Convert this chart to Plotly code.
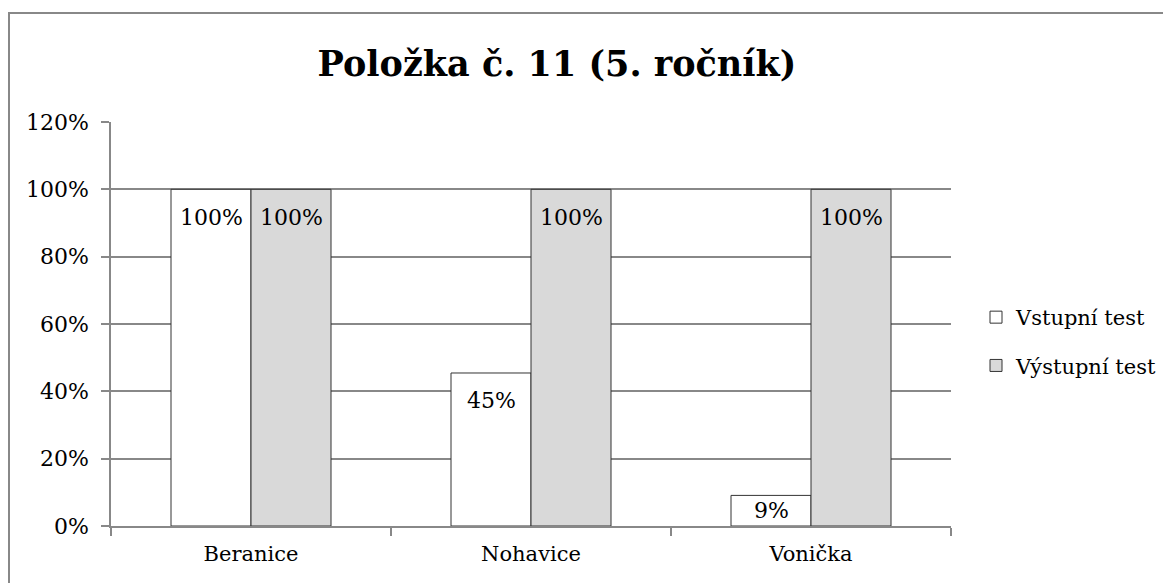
import plotly.graph_objects as go

categories = ["Beranice", "Nohavice", "Vonička"]
vstupni = [100, 45.45, 9.09]
vystupni = [100, 100, 100]
series_names = ["Vstupní test", "Výstupní test"]
y_ticks = [0, 20, 40, 60, 80, 100, 120]
title_text = "Položka č. 11 (5. ročník)"

W, H = 1171, 583
OFF = 8  # page body margin of the browser
# target plot area in screen pixels
SX0, SX1, SY0, SY1 = 111, 951, 122, 526
L, T = SX0 - OFF, SY0 - OFF
R, B = W - (SX1 - OFF), H - (SY1 - OFF)
plot_w = W - L - R
plot_h = H - T - B
ymax = 120

FONT = "DejaVu Serif"
GRID = "#888888"
FS = 22


def px(sx):
    return (sx - SX0) / plot_w


def py(sy):
    return (SY1 - sy) / plot_h


fig = go.Figure()
fig.add_trace(go.Bar(x=categories, y=vstupni, name=series_names[0],
                     marker=dict(color="white", line=dict(color="#333333", width=1)),
                     legendgroup="a"))
fig.add_trace(go.Bar(x=categories, y=vystupni, name=series_names[1],
                     marker=dict(color="#d9d9d9", line=dict(color="#333333", width=1)),
                     legendgroup="b"))

annotations = []
for vals, xs in ((vstupni, -40), (vystupni, 40)):
    for c, v in zip(categories, vals):
        hpx = v / ymax * plot_h
        shift = min(28, hpx / 2)
        annotations.append(dict(x=c, y=v, xref="x", yref="y", text=f"{v:.0f}%",
                                showarrow=False, xshift=xs, yshift=-shift,
                                font=dict(family=FONT, size=FS, color="black")))

fig.update_layout(
    width=W, height=H,
    margin=dict(l=L, r=R, t=T, b=B, autoexpand=False),
    paper_bgcolor="white", plot_bgcolor="white",
    barmode="group", bargap=0.4286, bargroupgap=0,
    font=dict(family=FONT, size=FS, color="black"),
    title=dict(text=f"<b>{title_text}</b>", x=(557 - OFF) / W, xanchor="center",
               xref="container", y=1 - (64 - OFF) / H, yanchor="middle",
               yref="container",
               font=dict(family=FONT, size=35, color="black")),
    legend=dict(x=px(976), y=py(341.5),
                xanchor="left", yanchor="middle",
                font=dict(family=FONT, size=21, color="black"),
                tracegroupgap=18, bgcolor="rgba(0,0,0,0)", itemwidth=30),
    annotations=annotations,
    shapes=[dict(type="rect", xref="paper", yref="paper",
                 x0=px(9), x1=px(1190),
                 y0=py(600), y1=py(13),
                 line=dict(color=GRID, width=2), fillcolor="rgba(0,0,0,0)", layer="below")],
)
fig.update_yaxes(range=[0, ymax], tickvals=y_ticks, ticktext=[f"{t}%" for t in y_ticks],
                 showgrid=True, gridcolor=GRID, gridwidth=1.5,
                 showline=True, linecolor=GRID, linewidth=1.5,
                 ticks="outside", ticklen=8, tickcolor=GRID, tickwidth=1.5,
                 ticklabelstandoff=8,
                 tickfont=dict(family=FONT, size=FS, color="black"), zeroline=False)
fig.update_xaxes(showline=True, linecolor=GRID, linewidth=1.5,
                 ticks="outside", ticklen=8, tickcolor=GRID, tickwidth=1.5,
                 tickson="boundaries", ticklabelstandoff=8,
                 tickfont=dict(family=FONT, size=21, color="black"))

fig.write_html("out.html")
